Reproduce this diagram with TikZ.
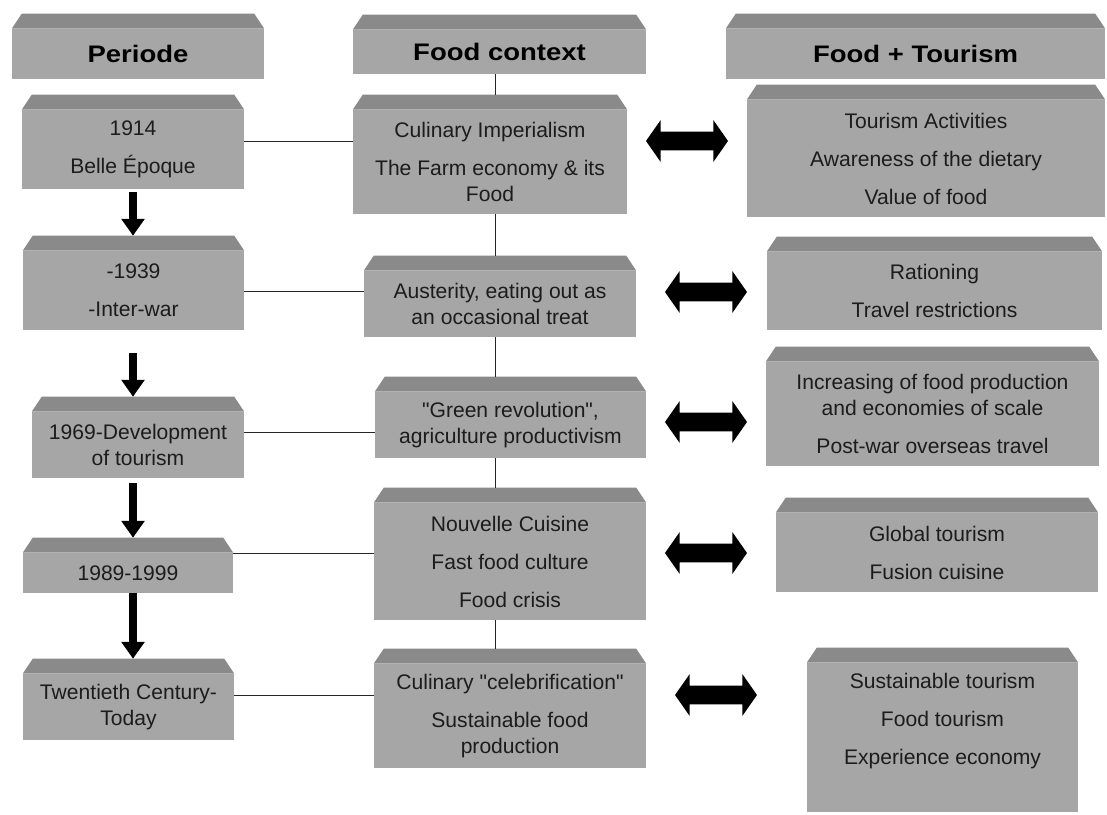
\documentclass[tikz,border=0pt]{standalone}
\usepackage{fontspec}
\setmainfont{Liberation Sans}[Ligatures=TeXOff]
\newfontfamily\headfont{Liberation Sans Bold}[FakeStretch=1.15]
\usetikzlibrary{calc,arrows.meta,shapes.arrows}

\definecolor{frontgray}{RGB}{166,166,166}
\definecolor{bevelgray}{RGB}{138,138,138}
\definecolor{inkgray}{RGB}{28,28,28}

\tikzset{
  box/.style={fill=frontgray, inner sep=0pt, align=center, text=inkgray,
    font=\fontsize{15}{18}\selectfont},
  headbox/.style={box, text=black, font=\headfont\fontsize{17}{20}\selectfont},
  sized/.style 2 args={minimum width=#1*0.025cm, minimum height=#2*0.025cm},
  downarrow/.style={line width=0.18cm, -{Triangle[width=0.56cm,length=0.42cm]}},
  dblarrow/.style={double arrow, fill=black, inner xsep=0pt, inner ysep=0.19cm,
    minimum height=2.05cm, minimum width=1.05cm, double arrow tip angle=110},
  link/.style={line width=0.6pt, black!85}
}

\begin{document}
\begin{tikzpicture}[x=0.025cm, y=-0.025cm]
        \fill[white] (0,0) rectangle (1107,815);
        \useasboundingbox (0,0) rectangle (1107,815);

        % Column heads
        \node[headbox, sized={252}{50}] (h1) at (138,54) {Periode};
        \node[headbox, sized={293}{44}] (h2) at (499.5,52) {Food context};
        \node[headbox, sized={379}{50}] (h3) at (915.5,54) {Food + Tourism};

        % Periods
        \node[box, sized={222}{79}] (p1) at (133,149.5) {1914\\[9pt]Belle Époque};
        \node[box, sized={221}{79}] (p2) at (133.5,290.5) {-1939\\[9pt]-Inter-war};
        \node[box, sized={212}{66}] (p3) at (138,445) {1969-Development\\of tourism};
        \node[box, sized={210}{40}] (p4) at (128,573) {1989-1999};
        \node[box, sized={211}{66}] (p5) at (128.5,707) {Twentieth Century-\\Today};

        % Food context
        \node[box, sized={274}{104}] (f1) at (490,162) {Culinary Imperialism\\[9pt]The Farm economy \& its\\Food};
        \node[box, sized={272}{66}] (f2) at (500,304) {Austerity, eating out as\\an occasional treat};
        \node[box, sized={271}{66}] (f3) at (510.5,425) {"Green revolution",\\agriculture productivism};
        \node[box, sized={272}{117}] (f4) at (510,561.5) {Nouvelle Cuisine\\[9pt]Fast food culture\\[9pt]Food crisis};
        \node[box, sized={272}{104}] (f5) at (510,716) {Culinary "celebrification"\\[9pt]Sustainable food\\production};

        % Food + Tourism
        \node[box, sized={358}{117}] (t1) at (926,158.5) {Tourism Activities\\[9pt]Awareness of the dietary\\[9pt]Value of food};
        \node[box, sized={335}{78}] (t2) at (934.5,291) {Rationing\\[9pt]Travel restrictions};
        \node[box, sized={333}{104}] (t3) at (932.5,414) {Increasing of food production\\and economies of scale\\[9pt]Post-war overseas travel};
        \node[box, sized={322}{79}] (t4) at (937,552.5) {Global tourism\\[9pt]Fusion cuisine};
        \node[box, sized={271}{149}] (t5) at (942.5,737.5) {Sustainable tourism\\[9pt]Food tourism\\[9pt]Experience economy\\[9pt]\mbox{}};

        % bevelled tops
        \foreach \n in {h1,h2,h3,p1,p2,p3,p4,p5,f1,f2,f3,f4,f5,t1,t2,t3,t4,t5}
          \fill[bevelgray] (\n.north west) -- ++(10,-15) -- ($(\n.north east)+(-10,-15)$) -- (\n.north east) -- cycle;

        % Double arrows
        \node[dblarrow] (a1) at (687,141) {};
        \node[dblarrow] (a2) at (706,292) {};
        \node[dblarrow] (a3) at (706,422) {};
        \node[dblarrow] (a4) at (706,553) {};
        \node[dblarrow] (a5) at (716,695) {};

        % Period arrows
        \draw[downarrow, shorten <=0.08cm] (p1.south) -- ($(p1.south |- p2.north)+(0,-15)$);
        \draw[downarrow, shorten <=0.58cm] (p1.south |- p2.south) -- ($(p1.south |- p3.north)+(0,-15)$);
        \draw[downarrow, shorten <=0.12cm] (p1.south |- p3.south) -- ($(p1.south |- p4.north)+(0,-15)$);
        \draw[downarrow] (p1.south |- p4.south) -- ($(p1.south |- p5.north)+(0,-15)$);

        % Food context spine
        \coordinate (spine) at (495,0);
        \draw[link] (spine |- h2.south) -- ($(spine |- f1.north)+(0,-15)$);
        \draw[link] (spine |- f1.south) -- ($(spine |- f2.north)+(0,-15)$);
        \draw[link] (spine |- f2.south) -- ($(spine |- f3.north)+(0,-15)$);
        \draw[link] (spine |- f3.south) -- ($(spine |- f4.north)+(0,-15)$);
        \draw[link] (spine |- f4.south) -- ($(spine |- f5.north)+(0,-15)$);

        % Period to food
        \draw[link] (p1.east |- 0,141) -- (f1.west |- 0,141);
        \draw[link] (p2.east |- 0,291) -- (f2.west |- 0,291);
        \draw[link] (p3.east |- 0,432) -- (f3.west |- 0,432);
        \draw[link] (p4.east |- 0,553) -- (f4.west |- 0,553);
        \draw[link] (p5.east |- 0,695) -- (f5.west |- 0,695);
    \end{tikzpicture}
\end{document}
